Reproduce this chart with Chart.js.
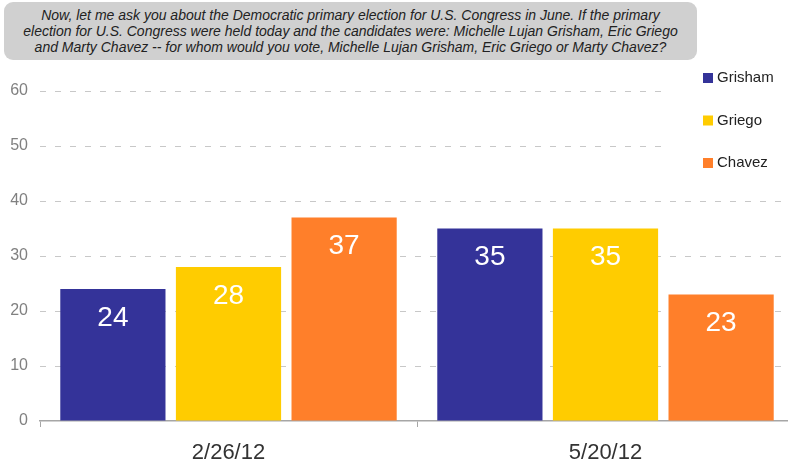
<!DOCTYPE html>
<html>
<head>
<meta charset="utf-8">
<script src="https://cdn.jsdelivr.net/npm/chart.js@4.4.1/dist/chart.umd.min.js"></script>
<style>
  html, body { margin: 0; padding: 0; background: #fff; overflow: hidden; }
  #wrap { position: relative; width: 788px; height: 464px; overflow: hidden; }
  #chart { position: absolute; left: 0; top: 0; }
  #question {
    position: absolute; left: 4px; top: 2px; width: 693px; height: 58px;
    background: #d0d0d0; border-radius: 9px;
    font: italic 14px "Liberation Sans", Arial, sans-serif; line-height: 16px;
    color: #222; text-align: center; padding-top: 5px; box-sizing: border-box;
  }
</style>
</head>
<body>
<div id="wrap">
  <canvas id="chart" width="800" height="464"></canvas>
  <div id="question">Now, let me ask you about the Democratic primary election for U.S. Congress in June. If the primary<br>election for U.S. Congress were held today and the candidates were: Michelle Lujan Grisham, Eric Griego<br>and Marty Chavez -- for whom would you vote, Michelle Lujan Grisham, Eric Griego or Marty Chavez?</div>
</div>
<script>
// poll dates
var dates = ['2/26/12', '5/20/12'];
var grisham = [24, 35];
var griego = [28, 35];
var chavez = [37, 23];
var yTicks = [0, 10, 20, 30, 40, 50, 60];

var font = '"Liberation Sans", Arial, sans-serif';

// white numbers near the top of each bar
var barLabels = {
  id: 'barLabels',
  afterDatasetsDraw: function(chart) {
    var ctx = chart.ctx;
    ctx.save();
    ctx.fillStyle = '#fff';
    ctx.font = '28px ' + font;
    ctx.textAlign = 'center';
    ctx.textBaseline = 'middle';
    chart.data.datasets.forEach(function(ds, i) {
      chart.getDatasetMeta(i).data.forEach(function(bar, j) {
        ctx.fillText(ds.data[j], bar.x, bar.y + 29);
      });
    });
    ctx.restore();
  }
};

// legend on a white patch over the grid, top right
var sideLegend = {
  id: 'sideLegend',
  afterDraw: function(chart) {
    var ctx = chart.ctx;
    ctx.save();
    ctx.fillStyle = '#fff';
    ctx.fillRect(663, 62, 140, 124);
    ctx.font = '15px ' + font;
    ctx.textBaseline = 'middle';
    chart.data.datasets.forEach(function(ds, i) {
      var y = 78 + i * 42.5;
      ctx.fillStyle = ds.backgroundColor;
      ctx.fillRect(703, y - 5, 10, 10);
      ctx.fillStyle = '#222';
      ctx.fillText(ds.label, 717, y);
    });
    ctx.restore();
  }
};

new Chart(document.getElementById('chart'), {
  type: 'bar',
  data: {
    labels: dates,
    datasets: [
      { label: 'Grisham', data: grisham, backgroundColor: '#343399' },
      { label: 'Griego', data: griego, backgroundColor: '#ffcc00' },
      { label: 'Chavez', data: chavez, backgroundColor: '#ff7f2a' }
    ]
  },
  options: {
    responsive: false,
    animation: false,
    devicePixelRatio: 1,
    categoryPercentage: 0.92,
    barPercentage: 0.91,
    layout: { padding: { top: 91, right: 6, left: 0, bottom: 0 } },
    plugins: { legend: { display: false }, tooltip: { enabled: false } },
    scales: {
      x: {
        afterFit: function(s) { s.height = 43; },
        grid: { offset: true, drawOnChartArea: false, color: '#a6a6a6', tickLength: 6 },
        border: { color: '#a6a6a6', width: 1.5 },
        ticks: { color: '#333', font: { size: 22, family: font }, padding: 13 }
      },
      y: {
        min: 0, max: 60,
        afterFit: function(s) { s.width = 40; },
        afterBuildTicks: function(s) { s.ticks = yTicks.map(function(v) { return { value: v }; }); },
        grid: {
          drawTicks: false, color: function(c) { return c.tick.value === 0 ? 'rgba(0,0,0,0)' : '#c8c8c8'; }
        },
        border: { display: false, dash: [6, 9] },
        ticks: { color: '#808080', font: { size: 16, family: font }, padding: 12 }
      }
    }
  },
  plugins: [barLabels, sideLegend]
});
</script>
</body>
</html>
